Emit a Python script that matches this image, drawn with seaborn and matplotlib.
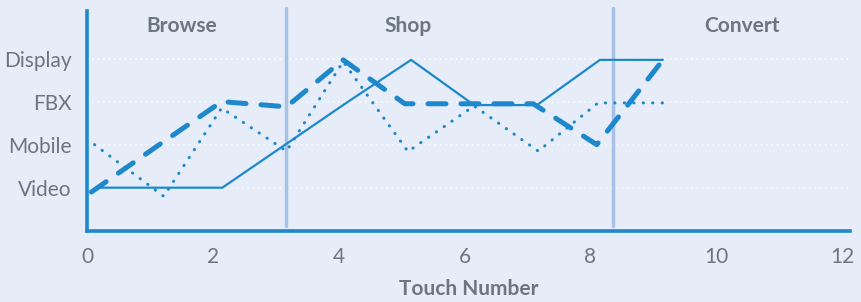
import matplotlib
matplotlib.use("Agg")
import matplotlib.pyplot as plt
import seaborn as sns
import pandas as pd

# touch-number path per channel (category levels: Video=1, Mobile=2, FBX=3, Display=4)
solid_x = [0.15, 1.15, 2.15, 3.15, 4.15, 5.15, 6.15, 7.15, 8.15, 9.15]
solid_y = [1.0, 1.0, 1.0, 2.0, 3.0, 3.97, 2.92, 2.92, 3.97, 3.97]

dotted_x = [0.12, 1.22, 2.14, 3.17, 4.07, 5.1, 6.15, 7.17, 8.12, 9.2]
dotted_y = [2.0, 0.8, 2.85, 1.85, 3.93, 1.84, 2.9, 1.85, 2.97, 2.97]

dashed_x = [0.07, 1.1, 2.14, 3.17, 4.07, 5.05, 6.1, 7.09, 8.1, 9.13]
dashed_y = [0.9, 1.95, 3.0, 2.88, 3.97, 2.95, 2.95, 2.95, 2.0, 3.93]

channels = ["Video", "Mobile", "FBX", "Display"]
channel_pos = [1, 2, 3, 4]
x_ticks = [0, 2, 4, 6, 8, 10, 12]

phases = ["Browse", "Shop", "Convert"]
phase_x = [1.5, 5.1, 10.4]
phase_breaks = [3.17, 8.35]

bg = "#E6ECF8"
blue = "#1E88CC"
sep = "#A8C2E6"
grey = "#6B767E"

sns.set_theme(style="white")
plt.rcParams["font.family"] = ["Lato", "DejaVu Sans"]

fig = plt.figure(figsize=(8.61, 3.02), dpi=100, facecolor=bg)
ax = fig.add_axes([0.101, 0.236, 0.886, 0.741])
ax.set_facecolor(bg)

for yv in channel_pos:
    ax.axhline(yv, color="white", lw=1.1, ls=(0, (1, 2.5)), zorder=1)

for xb in phase_breaks:
    ax.axvline(xb, ymin=0.02, ymax=0.995, color=sep, lw=2.5, zorder=1)

sns.lineplot(x=solid_x, y=solid_y, ax=ax, color=blue, lw=1.6, sort=False,
             estimator=None, zorder=3)
sns.lineplot(x=dotted_x, y=dotted_y, ax=ax, color=blue, lw=2.2, sort=False,
             estimator=None, linestyle=(0, (0.1, 3)), dash_capstyle="round", zorder=3)
sns.lineplot(x=dashed_x, y=dashed_y, ax=ax, color=blue, lw=3.6, sort=False,
             estimator=None, linestyle=(0, (3.6, 3.0)), dash_capstyle="round", zorder=4)

for name, px in zip(phases, phase_x):
    ax.text(px, 4.75, name, ha="center", va="center", fontsize=15,
            fontweight="bold", color=grey)

ax.set_xlim(0, 12.12)
ax.set_ylim(0, 5.2)
ax.set_xticks(x_ticks)
ax.set_xticklabels([str(t) for t in x_ticks])
ax.set_yticks(channel_pos)
ax.set_yticklabels(channels)
ax.tick_params(axis="both", length=0, labelsize=15, labelcolor=grey)
ax.tick_params(axis="x", pad=12)
ax.tick_params(axis="y", pad=11)
ax.set_xlabel("Touch Number", fontsize=15, fontweight="bold", color=grey, labelpad=8)
ax.set_ylabel("")

for s in ["top", "right"]:
    ax.spines[s].set_visible(False)
for s in ["left", "bottom"]:
    ax.spines[s].set_color(blue)
    ax.spines[s].set_linewidth(2.6)
ax.spines["left"].set_bounds(0, 5.1)

fig.savefig("out.png", dpi=100, facecolor=bg)
